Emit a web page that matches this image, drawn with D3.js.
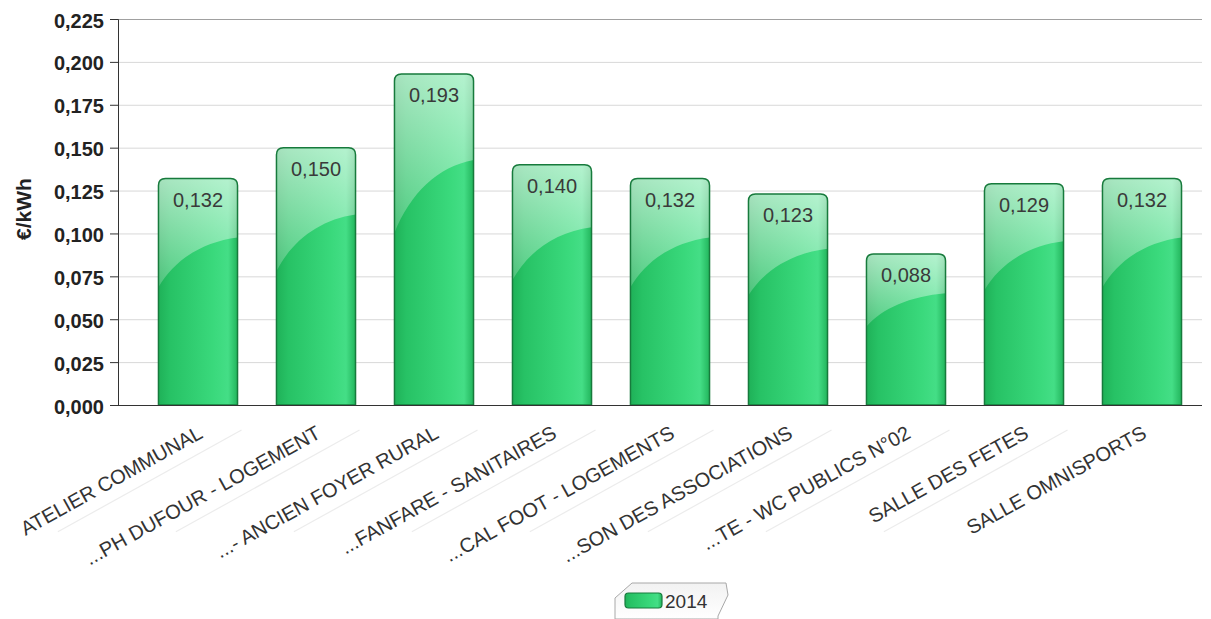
<!DOCTYPE html>
<html><head><meta charset="utf-8">
<script src="https://cdn.jsdelivr.net/npm/d3@7/dist/d3.min.js"></script>
<style>body{margin:0;background:#fff}svg{display:block}text{font-family:Arial,"Liberation Sans",sans-serif}</style>
</head><body><svg id="c" width="1211" height="619"></svg>
<script>
const categories = ["ATELIER COMMUNAL","...PH DUFOUR - LOGEMENT","...- ANCIEN FOYER RURAL","...FANFARE - SANITAIRES","...CAL FOOT - LOGEMENTS","...SON DES ASSOCIATIONS","...TE - WC PUBLICS N°02","SALLE DES FETES","SALLE OMNISPORTS"];
const values2014 = [0.132,0.150,0.193,0.140,0.132,0.123,0.088,0.129,0.132];
const yTicks = [0,0.025,0.05,0.075,0.1,0.125,0.15,0.175,0.2,0.225];
const seriesName = "2014";
const yTitle = "€/kWh";

const svg = d3.select("#c");
const FF = "Arial,'Liberation Sans',sans-serif";
const fmt = v => d3.format(".3f")(v).replace(".", ",");
const x = d3.scaleBand().domain(categories).range([139,1201]).paddingInner(0.33).paddingOuter(0.165);
const y = d3.scaleLinear().domain([0,0.225]).range([405,19]);
const axisLeft = 118, axisRight = 1202;
const ANG = 29;

const defs = svg.append("defs");
const g1 = defs.append("linearGradient").attr("id","barH").attr("x1","0").attr("x2","1").attr("y1","0").attr("y2","0");
[[0,"#1fb158"],[0.15,"#27c265"],[0.7,"#3ad97c"],[0.88,"#44de86"],[1,"#22b55c"]].forEach(s=>g1.append("stop").attr("offset",s[0]).attr("stop-color",s[1]));
const g2 = defs.append("linearGradient").attr("id","gloss").attr("x1","0").attr("x2","0").attr("y1","0").attr("y2","1");
[[0,"#fff",0.6],[1,"#fff",0.2]].forEach(s=>g2.append("stop").attr("offset",s[0]).attr("stop-color",s[1]).attr("stop-opacity",s[2]));
const g3 = defs.append("linearGradient").attr("id","legH").attr("x1","0").attr("x2","0").attr("y1","0").attr("y2","1");
[[0,"#f2f2f2"],[1,"#ffffff"]].forEach(s=>g3.append("stop").attr("offset",s[0]).attr("stop-color",s[1]));

// grid
svg.append("g").selectAll("line").data(yTicks.filter(t=>t>0)).join("line")
  .attr("x1",axisLeft).attr("x2",axisRight).attr("y1",d=>y(d)+0.5).attr("y2",d=>y(d)+0.5)
  .attr("stroke",d=>d===0.225?"#a0a0a0":"#d8d8d8").attr("stroke-width",1);

// faint label shadow lines
const rad = ANG*Math.PI/180;
svg.append("g").selectAll("line").data(categories.slice(1)).join("line")
  .attr("x1",d=>x(d)-x.step()*0.165*2+4).attr("y1",430)
  .attr("x2",d=>x(d)-x.step()*0.165*2+4-210*Math.cos(rad)).attr("y2",430+210*Math.sin(rad))
  .attr("stroke","#ececec").attr("stroke-width",1.2);

// y axis
const ya = svg.append("g").attr("transform",`translate(${axisLeft},0)`)
  .call(d3.axisLeft(y).tickValues(yTicks).tickFormat(fmt).tickSize(8).tickPadding(6));
ya.select(".domain").attr("stroke","#333");
ya.selectAll(".tick line").attr("stroke","#333");
ya.selectAll("text").attr("font-size",20).attr("font-weight","bold").attr("fill","#222").attr("font-family",FF).attr("dy","0.4em");

svg.append("text").attr("transform","translate(31,209) rotate(-90)").attr("text-anchor","middle")
  .attr("font-size",21).attr("font-weight","bold").attr("fill","#222").text(yTitle);

// bars
const bw = x.bandwidth(), r = 7;
const barPath = (d,i) => {
  const x0 = x(categories[i]), x1 = x0+bw, y0 = y(d), yb = y(0);
  return `M${x0},${yb}L${x0},${y0+r}Q${x0},${y0} ${x0+r},${y0}L${x1-r},${y0}Q${x1},${y0} ${x1},${y0+r}L${x1},${yb}Z`;
};
const bars = svg.append("g");
values2014.forEach((d,i)=>{
  const x0 = x(categories[i]), x1 = x0+bw, y0 = y(d), yb = y(0), h = yb-y0;
  bars.append("path").attr("d",barPath(d,i)).attr("fill","url(#barH)");
  const cl = y0 + 0.48*h, cr = y0 + 0.26*h;
  bars.append("path").attr("d",`M${x0},${y0+r}Q${x0},${y0} ${x0+r},${y0}L${x1-r},${y0}Q${x1},${y0} ${x1},${y0+r}L${x1},${cr}C${x1-bw*0.45},${cr+h*0.02} ${x0+bw*0.2},${cl-h*0.12} ${x0},${cl}Z`)
    .attr("fill","url(#gloss)");
  bars.append("path").attr("d",barPath(d,i)).attr("fill","none").attr("stroke","#177a3c").attr("stroke-width",1.5);
  bars.append("text").attr("x",x0+bw/2).attr("y",y0+28).attr("text-anchor","middle")
    .attr("font-size",20).attr("fill","#3a3a3a").text(fmt(d));
});

// x axis line
svg.append("line").attr("x1",axisLeft).attr("x2",axisRight).attr("y1",405.5).attr("y2",405.5).attr("stroke","#333");

// x labels
svg.append("g").selectAll("text").data(categories).join("text")
  .attr("transform",d=>`translate(${x(d)+bw/2+6},437) rotate(${-ANG})`)
  .attr("text-anchor","end").attr("font-size",20).attr("fill","#333").text(d=>d);

// legend
const lg = svg.append("g");
lg.append("path").attr("d","M632,583L726,583L728,595L718,616L718,619L615,619L615,598Z").attr("fill","url(#legH)").attr("stroke","#a8a8a8");
lg.append("rect").attr("x",625).attr("y",593).attr("width",37).attr("height",15).attr("rx",3.5)
  .attr("fill","url(#barH)").attr("stroke","#177a3c").attr("stroke-width",1.2);
lg.append("text").attr("x",665).attr("y",608).attr("font-size",19).attr("fill","#333").text(seriesName);
</script></body></html>
